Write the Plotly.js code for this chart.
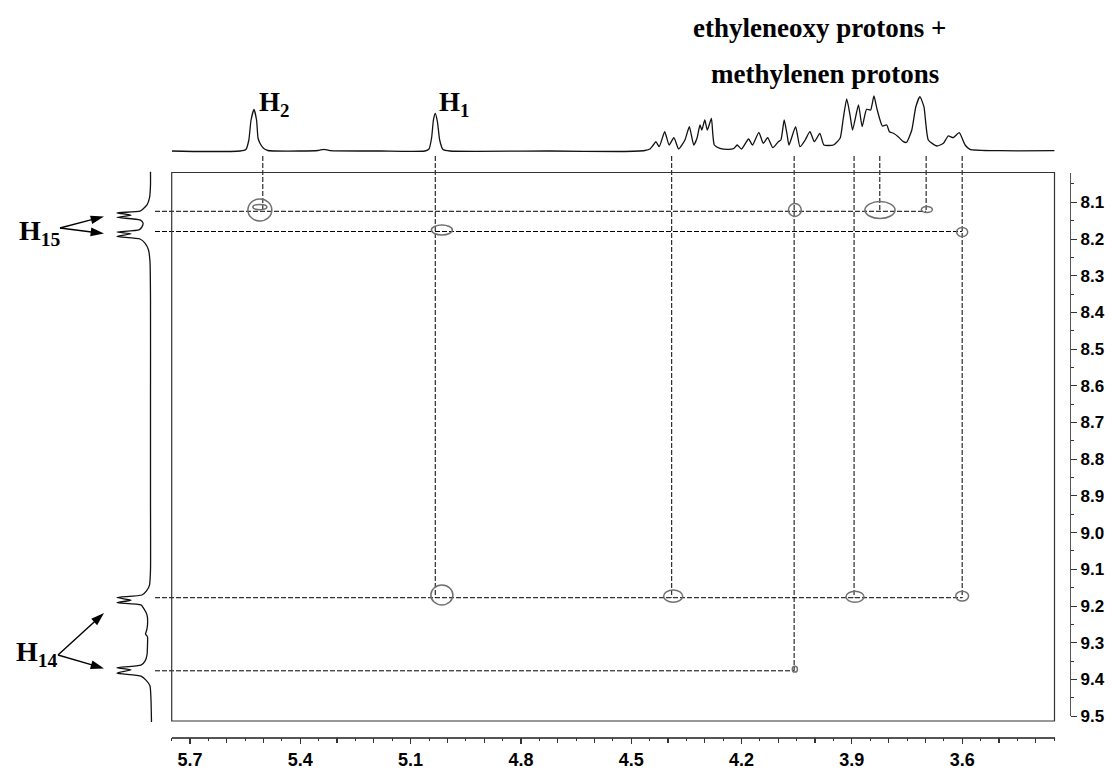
<!DOCTYPE html>
<html><head><meta charset="utf-8">
<script src="https://cdn.plot.ly/plotly-3.0.1.min.js"></script>
<style>html,body{margin:0;padding:0;background:#fff}#chart{width:1114px;height:771px}</style>
</head><body><div id="chart"></div>
<script>
// ---------- DATA ----------
// F2 (top) projection: chemical shift (ppm) and intensity
const topPpm = [5.749,5.673,5.564,5.548,5.540,5.534,5.526,5.519,5.515,5.510,5.501,5.488,5.401,5.352,5.336,5.319,5.183,5.061,5.050,5.043,5.038,5.033,5.027,5.021,5.012,4.993,4.721,4.531,4.463,4.449,4.440,4.433,4.424,4.409,4.397,4.384,4.371,4.354,4.342,4.330,4.321,4.313,4.308,4.300,4.293,4.282,4.278,4.274,4.259,4.236,4.221,4.212,4.200,4.181,4.170,4.153,4.141,4.129,4.115,4.100,4.093,4.084,4.076,4.071,4.053,4.041,4.027,4.014,4.002,3.987,3.976,3.950,3.932,3.924,3.914,3.905,3.898,3.882,3.872,3.860,3.849,3.840,3.831,3.817,3.805,3.798,3.787,3.774,3.760,3.751,3.737,3.726,3.715,3.704,3.692,3.669,3.651,3.638,3.624,3.608,3.592,3.579,3.497,3.348];
const topInt = [0,-0.5,0,1.5,11,31,41.5,31,13,8,3,0.5,0,0.5,1.7,0.3,0,0,2,13,31,37.5,29,11,1.5,0,0,-0.5,0.5,2,6,9.3,4.3,19.3,6,13.3,2,11,24.3,6,13,26,21,31,21,32.7,16,6,2.7,1.7,2.5,6,2,12,6,18.7,7.7,13.3,3.3,9.3,11,31,16,6,24.3,4.3,11,19.3,9.3,17.7,6,6,12.7,31,52,36,21,46,24.3,41.7,41,55,41,25,26,19.3,17.7,14.3,9.3,8.7,21,44.3,54.3,44.3,11,5,7.7,15,13.3,18.3,6,1.7,0.3,0.3];

// F1 (left) projection: chemical shift (ppm) and intensity
const leftPpm = [8.017,8.053,8.088,8.107,8.118,8.124,8.129,8.135,8.141,8.148,8.156,8.167,8.175,8.181,8.186,8.193,8.200,8.211,8.230,8.262,8.366,8.639,8.911,9.102,9.143,9.159,9.170,9.177,9.184,9.191,9.197,9.208,9.224,9.252,9.268,9.276,9.284,9.306,9.333,9.350,9.361,9.368,9.374,9.383,9.391,9.402,9.418,9.456,9.516];
const leftInt = [0.5,0.5,1.5,4,8,11,34,20,34,11,8,9,12,34,20,34,11,6,2.5,1,0.5,0.5,0.5,0.5,1.5,4.5,9,34,20,34,10,7,4,3.5,4.5,5.5,3.5,3.5,4,6,10,34,20,34,10,5,1,0,-0.5];

// Correlation lines: vertical (F2 shift -> F1 shift where they stop)
const vLineF2 = [5.502,5.033,4.390,4.057,3.894,3.824,3.698,3.600];
const vLineF1End = [8.1245,9.1774,9.1774,9.3766,9.1774,8.1245,8.1245,9.1774];
// horizontal (F1 shift -> F2 shift where they stop)
const hLineF1 = [8.1245,8.1796,9.1774,9.3766];
const hLineF2End = [3.698,3.600,3.600,4.057];

// Cross peaks: centre (F2, F1) and contour size (ppm)
const peakF2 = [5.510,5.510,5.015,5.015,4.386,4.055,4.055,3.8235,3.696,3.600,3.8915,3.600];
const peakF1 = [8.121,8.113,8.1755,9.170,9.173,8.121,9.372,8.121,8.1196,8.181,9.175,9.173];
const peakW  = [0.065,0.038,0.057,0.060,0.052,0.035,0.014,0.082,0.030,0.030,0.049,0.035];
const peakH  = [0.060,0.014,0.027,0.054,0.033,0.035,0.016,0.046,0.016,0.025,0.030,0.027];

// Axis ticks
const xLabelVals = [5.7,5.4,5.1,4.8,4.5,4.2,3.9,3.6];
const xLabelText = ['5.7','5.4','5.1','4.8','4.5','4.2','3.9','3.6'];
const yTickVals = [8.1,8.2,8.3,8.4,8.5,8.6,8.7,8.8,8.9,9.0,9.1,9.2,9.3,9.4,9.5];
const yTickText = ['8.1','8.2','8.3','8.4','8.5','8.6','8.7','8.8','8.9','9.0','9.1','9.2','9.3','9.4','9.5'];

// Labels
const labelH2 = 'H<sub>2</sub>';
const labelH1 = 'H<sub>1</sub>';
const labelH15 = 'H<sub>15</sub>';
const labelH14 = 'H<sub>14</sub>';
const groupLine1 = 'ethyleneoxy protons +';
const groupLine2 = 'methylenen protons';

// ---------- LAYOUT GEOMETRY ----------
const PW = 1070, PH = 737;             // paper area (px)
const dx = px => px / PW;
const dy = py => (PH - py) / PH;
const ppmX = px => 5.7 - (px - 190) / 367.7;
const ppmY = py => 8.1 + (py - 202.3) / 367;

const serif = 'Liberation Serif, Times New Roman, serif';
const sans = 'Liberation Sans, Arial, sans-serif';

// build line segments
const vx = [], vy = [];
const vTop = ppmY(156);
vLineF2.forEach((x, i) => { vx.push(x, x, null); vy.push(vTop, vLineF1End[i], null); });
const hx = [], hy = [];
const hLeft = ppmX(155);
hLineF1.forEach((y, i) => { hx.push(hLeft, hLineF2End[i], null); hy.push(y, y, null); });

// label pointer arrows (page pixel frame): tail -> head
const arrows = [[[60, 228], [104, 216.5]], [[60, 228], [104, 233.5]], [[58, 655], [104, 613]], [[58, 655], [104, 668.5]]];

const traces = [
  {x: topPpm, y: topInt, xaxis: 'x2', yaxis: 'y2', mode: 'lines',
   line: {color: '#111', width: 1.3, shape: 'spline', smoothing: 0.5}, hoverinfo: 'skip', showlegend: false},
  {x: leftInt, y: leftPpm, xaxis: 'x4', yaxis: 'y4', mode: 'lines',
   line: {color: '#111', width: 1.3, shape: 'spline', smoothing: 0.5}, hoverinfo: 'skip', showlegend: false},
  {x: vx, y: vy, xaxis: 'x3', yaxis: 'y3', mode: 'lines',
   line: {color: '#000', width: 1, dash: '5px,2px'}, hoverinfo: 'skip', showlegend: false},
  {x: hx, y: hy, xaxis: 'x3', yaxis: 'y3', mode: 'lines',
   line: {color: '#000', width: 1, dash: '5px,2px'}, hoverinfo: 'skip', showlegend: false},
  {x: [null], y: [null], xaxis: 'x', yaxis: 'y', mode: 'markers', showlegend: false},
  {x: [null], y: [null], xaxis: 'x5', yaxis: 'y', mode: 'markers', showlegend: false}
];
arrows.forEach(a => {
  traces.push({x: [a[0][0], a[1][0]], y: [a[0][1], a[1][1]], xaxis: 'x6', yaxis: 'y6', mode: 'lines+markers',
    line: {color: '#000', width: 1.4},
    marker: {symbol: ['circle', 'arrow'], size: [0, 14], angleref: 'previous', color: '#000', opacity: 1, line: {width: 0}},
    hoverinfo: 'skip', showlegend: false, cliponaxis: false});
});

const shapes = [
  {type: 'rect', xref: 'paper', yref: 'paper', x0: dx(171.7), x1: dx(1054.5), y0: dy(721), y1: dy(172.5),
   line: {color: '#333', width: 1.2}}
];
peakF2.forEach((x, i) => {
  shapes.push({type: 'circle', xref: 'x', yref: 'y',
    x0: x - peakW[i] / 2, x1: x + peakW[i] / 2, y0: peakF1[i] - peakH[i] / 2, y1: peakF1[i] + peakH[i] / 2,
    line: {color: '#707070', width: 1.5}});
});

const hidden = {visible: false, fixedrange: true};
const xDom = [dx(171.7), dx(1054.5)], xRng = [ppmX(171.7), ppmX(1054.5)];
const layout = {
  width: 1114, height: 771,
  margin: {l: 0, r: 44, t: 0, b: 34, pad: 0},
  paper_bgcolor: '#fff', plot_bgcolor: 'rgba(0,0,0,0)',
  showlegend: false,
  xaxis: {domain: xDom, range: xRng,
    anchor: 'free', position: 0, showline: true, linecolor: '#555', linewidth: 1.6,
    showgrid: false, zeroline: false, ticks: 'outside', ticklen: 5, tickwidth: 1.2, tickcolor: '#333',
    tickmode: 'array', tickvals: xLabelVals, ticktext: xLabelText, ticklabelstandoff: 1,
    tickfont: {family: sans, size: 18, color: '#000', weight: 'bold'}},
  xaxis5: {domain: xDom, range: xRng, overlaying: 'x', anchor: 'free', position: 0,
    showline: false, showgrid: false, zeroline: false, showticklabels: false,
    ticks: 'outside', ticklen: 5, tickwidth: 1.2, tickcolor: '#333', tickmode: 'linear', tick0: 5.7, dtick: 0.1,
    minor: {tickmode: 'linear', tick0: 5.75, dtick: 0.1, ticks: 'outside', ticklen: 2.5, tickcolor: '#333', tickwidth: 1, showgrid: false}},
  yaxis: {domain: [dy(716.1), dy(172.5)], range: [ppmY(716.1), ppmY(172.5)],
    anchor: 'free', position: 1, side: 'right', showline: true, linecolor: '#555', linewidth: 1.2,
    showgrid: false, zeroline: false, ticks: 'outside', ticklen: 6, tickwidth: 1, tickcolor: '#333',
    tickmode: 'array', tickvals: yTickVals, ticktext: yTickText,
    tickfont: {family: sans, size: 17, color: '#000', weight: 'bold'},
    minor: {tickmode: 'linear', tick0: 8.05, dtick: 0.1, ticks: 'outside', ticklen: 3, tickcolor: '#333', tickwidth: 1, showgrid: false}},
  xaxis2: Object.assign({domain: xDom, range: xRng, anchor: 'y2'}, hidden),
  yaxis2: Object.assign({domain: [dy(160), dy(80)], range: [151 - 160, 151 - 80], anchor: 'x2'}, hidden),
  xaxis3: Object.assign({domain: [dx(155), dx(1054.5)], range: [ppmX(155), ppmX(1054.5)], anchor: 'y3'}, hidden),
  yaxis3: Object.assign({domain: [dy(721), dy(156)], range: [ppmY(721), ppmY(156)], anchor: 'x3'}, hidden),
  xaxis4: Object.assign({domain: [dx(100), dx(162)], range: [151 - 100, 151 - 162], anchor: 'y4'}, hidden),
  yaxis4: Object.assign({domain: [dy(725), dy(165)], range: [ppmY(725), ppmY(165)], anchor: 'x4'}, hidden),
  xaxis6: Object.assign({domain: [0, 1], range: [0, PW], anchor: 'y6'}, hidden),
  yaxis6: Object.assign({domain: [0, 1], range: [PH, 0], anchor: 'x6'}, hidden),
  shapes: shapes,
  annotations: [
    {text: labelH2, xref: 'paper', yref: 'paper', x: dx(257), y: dy(104), xanchor: 'left', yanchor: 'middle', showarrow: false,
     font: {family: serif, size: 27, color: '#000', weight: 'bold'}},
    {text: labelH1, xref: 'paper', yref: 'paper', x: dx(437), y: dy(104), xanchor: 'left', yanchor: 'middle', showarrow: false,
     font: {family: serif, size: 27, color: '#000', weight: 'bold'}},
    {text: labelH15, xref: 'paper', yref: 'paper', x: dx(17), y: dy(232), xanchor: 'left', yanchor: 'middle', showarrow: false,
     font: {family: serif, size: 28, color: '#000', weight: 'bold'}},
    {text: labelH14, xref: 'paper', yref: 'paper', x: dx(14), y: dy(653), xanchor: 'left', yanchor: 'middle', showarrow: false,
     font: {family: serif, size: 28, color: '#000', weight: 'bold'}},
    {text: groupLine1, xref: 'paper', yref: 'paper', x: dx(819), y: dy(28), xanchor: 'center', yanchor: 'middle', showarrow: false,
     font: {family: serif, size: 27, color: '#000', weight: 'bold'}},
    {text: groupLine2, xref: 'paper', yref: 'paper', x: dx(825), y: dy(74), xanchor: 'center', yanchor: 'middle', showarrow: false,
     font: {family: serif, size: 27, color: '#000', weight: 'bold'}}
  ]
};

Plotly.newPlot('chart', traces, layout, {displayModeBar: false, staticPlot: true});
</script></body></html>
